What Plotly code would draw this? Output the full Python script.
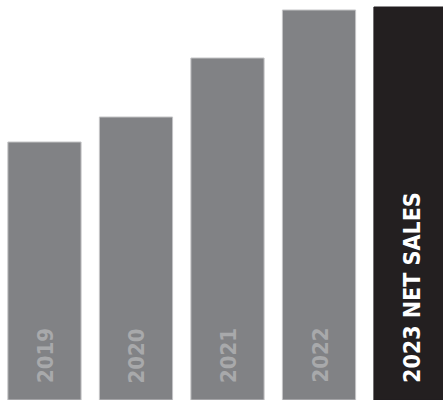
import plotly.graph_objects as go

categories = ["2019", "2020", "2021", "2022", "2023"]
labels = ["2019", "2020", "2021", "2022", "2023 NET SALES"]
values = [258, 283, 342, 390, 393]
fill_colors = ["#818285", "#818285", "#818285", "#818285", "#231f20"]
line_colors = ["#c4c4c6", "#c4c4c6", "#c4c4c6", "#c4c4c6", "#231f20"]
text_colors = ["#a8a9ab", "#a8a9ab", "#a8a9ab", "#a8a9ab", "#ffffff"]
label_sizes = [22, 22, 22, 22, 23]

fig = go.Figure()
fig.add_trace(go.Bar(
    x=list(range(len(categories))),
    y=values,
    width=0.8,
    marker=dict(color=fill_colors, line=dict(color=line_colors, width=1)),
    hoverinfo="skip",
))

for i, (lab, col, sz) in enumerate(zip(labels, text_colors, label_sizes)):
    fig.add_annotation(
        x=i, y=0, xref="x", yref="y",
        text=lab, showarrow=False, textangle=-90,
        xanchor="center", yanchor="bottom", yshift=15, xshift=1,
        font=dict(family="DejaVu Sans Condensed", size=sz, color=col, weight="bold"),
    )

fig.update_layout(
    width=443, height=400,
    margin=dict(l=0, r=0, t=0, b=0),
    paper_bgcolor="white", plot_bgcolor="white",
    showlegend=False,
    xaxis=dict(range=[-0.486, 4.355], visible=False, fixedrange=True),
    yaxis=dict(range=[0, 400], visible=False, fixedrange=True),
)

fig.write_html("out.html", config={"displayModeBar": False},
               post_script="document.body.style.margin='0';document.body.style.overflow='hidden';")
